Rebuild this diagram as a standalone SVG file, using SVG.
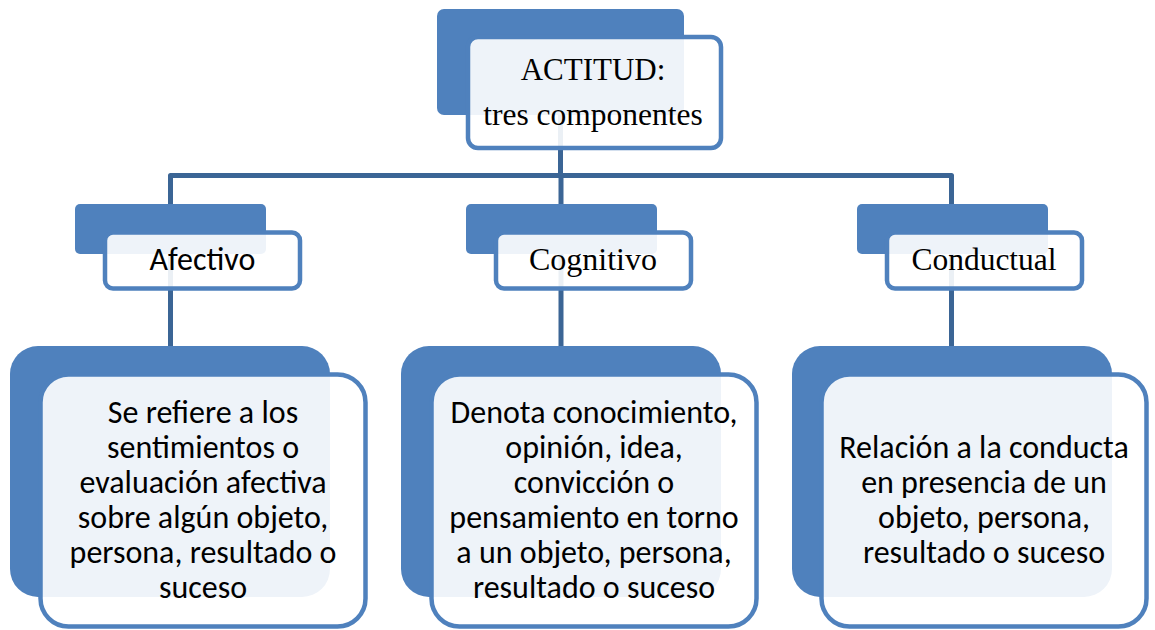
<svg xmlns="http://www.w3.org/2000/svg" width="1155" height="630" viewBox="0 0 1155 630">
<style>
.back{fill:#4F81BD}
.front{fill:#FFFFFF;fill-opacity:0.9;stroke:#4F81BD;stroke-width:4.5}
.conn{fill:none;stroke:#3B6595;stroke-width:5;stroke-linejoin:round}
.serif{font-family:"Liberation Serif","Times New Roman",serif;fill:#000;text-anchor:middle}
.sans{font-family:Carlito,Calibri,Lato,"Liberation Sans",sans-serif;fill:#000;text-anchor:middle}
.d{font-size:32px}
</style>
<rect width="1155" height="630" fill="#FFFFFF"/>
<g id="connectors">
<path class="conn" d="M560.5,112 V175.5"/>
<path class="conn" d="M170.5,205 V175.5 H951.5 V205"/>
<path class="conn" d="M561,175.5 V205"/>
<path class="conn" d="M170.5,250 V348"/>
<path class="conn" d="M561,250 V348"/>
<path class="conn" d="M951.5,250 V348"/>
</g>
<g id="actitud">
<rect class="back" x="437" y="9" width="247" height="106" rx="7"/>
<rect class="front" x="468" y="37" width="253" height="111" rx="10"/>
<text class="serif" font-size="31" x="593" y="80">ACTITUD:</text>
<text class="serif" font-size="31.5" x="593" y="125">tres componentes</text>
</g>
<g id="afectivo">
<rect class="back" x="75" y="204" width="191" height="50" rx="5"/>
<rect class="front" x="105" y="232.5" width="195" height="56" rx="8"/>
<text class="sans" font-size="32" x="202.5" y="270">Afectivo</text>
</g>
<g id="cognitivo">
<rect class="back" x="466" y="204" width="191" height="50" rx="5"/>
<rect class="front" x="496" y="232.5" width="195" height="56" rx="8"/>
<text class="serif" font-size="32" x="593" y="270">Cognitivo</text>
</g>
<g id="conductual">
<rect class="back" x="857" y="204" width="191" height="50" rx="5"/>
<rect class="front" x="887" y="232.5" width="195" height="56" rx="8"/>
<text class="serif" font-size="31.5" x="984" y="270">Conductual</text>
</g>
<g id="desc-afectivo">
<rect class="back" x="10" y="346" width="320" height="251" rx="28"/>
<rect class="front" x="40.5" y="374.5" width="325" height="252" rx="28"/>
<text class="sans d" x="203" y="423">Se refiere a los</text>
<text class="sans d" x="203" y="458">sentimientos o</text>
<text class="sans d" x="203" y="493">evaluación afectiva</text>
<text class="sans d" x="203" y="528">sobre algún objeto,</text>
<text class="sans d" x="203" y="563">persona, resultado o</text>
<text class="sans d" x="203" y="598">suceso</text>
</g>
<g id="desc-cognitivo">
<rect class="back" x="401" y="346" width="320" height="251" rx="28"/>
<rect class="front" x="431.5" y="374.5" width="325" height="252" rx="28"/>
<text class="sans d" x="594" y="423">Denota conocimiento,</text>
<text class="sans d" x="594" y="458">opinión, idea,</text>
<text class="sans d" x="594" y="493">convicción o</text>
<text class="sans d" x="594" y="528">pensamiento en torno</text>
<text class="sans d" x="594" y="563">a un objeto, persona,</text>
<text class="sans d" x="594" y="598">resultado o suceso</text>
</g>
<g id="desc-conductual">
<rect class="back" x="792" y="346" width="320" height="251" rx="28"/>
<rect class="front" x="821.5" y="374.5" width="325" height="252" rx="28"/>
<text class="sans d" x="984" y="458">Relación a la conducta</text>
<text class="sans d" x="984" y="493">en presencia de un</text>
<text class="sans d" x="984" y="528">objeto, persona,</text>
<text class="sans d" x="984" y="563">resultado o suceso</text>
</g>
</svg>
